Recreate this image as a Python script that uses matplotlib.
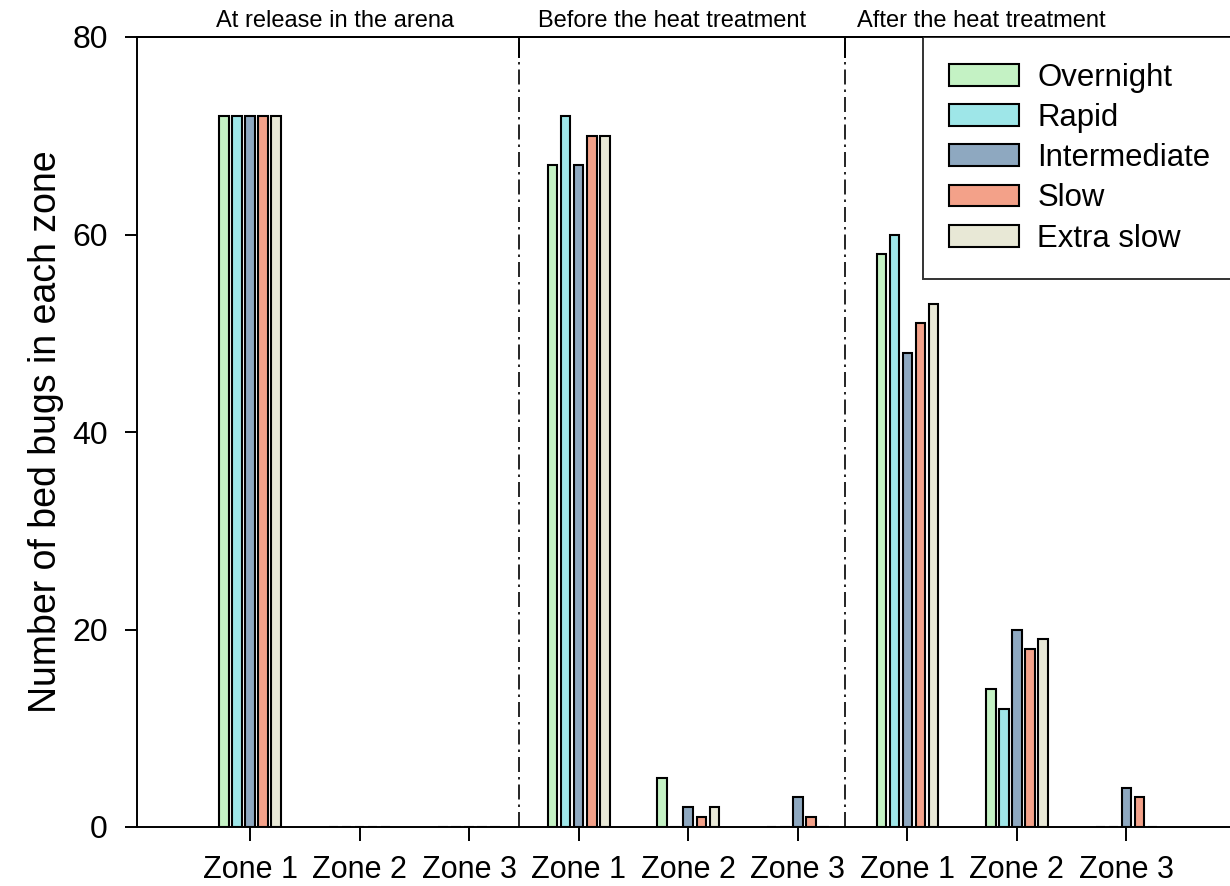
import matplotlib
matplotlib.use("Agg")
import matplotlib.pyplot as plt
import numpy as np

plt.rcParams['font.family'] = ['Liberation Sans', 'DejaVu Sans']

zones = ["Zone 1", "Zone 2", "Zone 3"] * 3
sections = ["At release in the arena", "Before the heat treatment", "After the heat treatment"]
series = ["Overnight", "Rapid", "Intermediate", "Slow", "Extra slow"]
colors = ["#c4f2c4", "#9ee6e8", "#8ea8c0", "#f3a189", "#e8e8d6"]

# values per series, across the 9 zone positions
overnight    = [72, 0, 0, 67, 5, 0, 58, 14, 0]
rapid        = [72, 0, 0, 72, 0, 0, 60, 12, 0]
intermediate = [72, 0, 0, 67, 2, 3, 48, 20, 4]
slow         = [72, 0, 0, 70, 1, 1, 51, 18, 3]
extra_slow   = [72, 0, 0, 70, 2, 0, 53, 19, 0]
values = [overnight, rapid, intermediate, slow, extra_slow]

fig = plt.figure(figsize=(12.3, 8.86), dpi=100)
ax = fig.add_axes([137/1230, 1-827/886, (1236-137)/1230, (827-37)/886])

x = np.arange(len(zones))
step = 0.119
width = 0.087
for i, (name, vals, c) in enumerate(zip(series, values, colors)):
    ax.bar(x + (i - 2) * step, vals, width=width, color=c, edgecolor="black",
           linewidth=1.5, label=name, zorder=3)

bounds = [2.457, 5.43]
for b in bounds:
    ax.plot([b, b], [0, 80], color="black", lw=1.2, ls=(0, (9, 3, 1.5, 3)), zorder=2)

ax.set_xlim(-1.032, 9.0)
ax.set_ylim(0, 80)
ax.set_yticks([0, 20, 40, 60, 80])
ax.set_xticks(x)
ax.set_xticklabels(zones)
ax.tick_params(axis='x', direction='out', length=10, width=1.4, labelsize=22, pad=10)
ax.tick_params(axis='y', direction='out', length=9, width=1.4, labelsize=23, pad=12)
for s in ["left", "bottom", "top"]:
    ax.spines[s].set_linewidth(1.4)
ax.spines["right"].set_visible(False)

sec = ax.secondary_xaxis('top')
sec.set_xticks(bounds)
sec.tick_params(direction='in', length=15, width=1.4, labeltop=False)
sec.spines['top'].set_linewidth(1.4)

ax.set_ylabel("Number of bed bugs in each zone", fontsize=27, labelpad=6)

title_x = [0.776, 3.854, 6.676]
for tx, t in zip(title_x, sections):
    ax.text(tx, 1.006, t, transform=ax.get_xaxis_transform(), ha="center", va="bottom",
            fontsize=17)

leg = ax.legend(loc="upper right", bbox_to_anchor=(1.0, 1.0), borderaxespad=0,
                fontsize=22.4, frameon=True, fancybox=False, edgecolor="black",
                handlelength=2.25, handleheight=0.7, labelspacing=0.33,
                handletextpad=0.6, borderpad=0.82)
leg.get_frame().set_linewidth(1.4)
leg.set_zorder(5)

fig.savefig("out.png", dpi=100)
